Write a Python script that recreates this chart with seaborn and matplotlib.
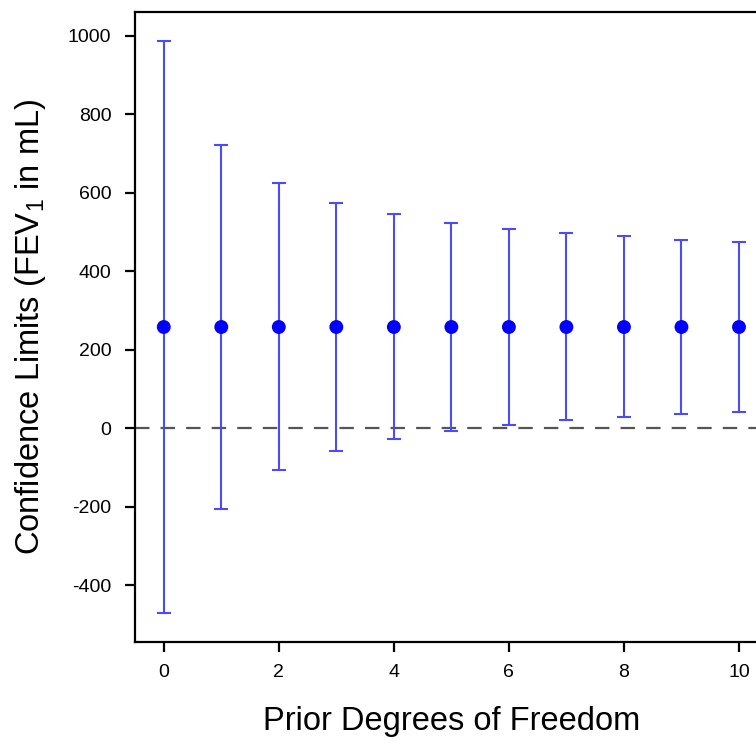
import matplotlib
matplotlib.use("Agg")
import matplotlib.pyplot as plt
import seaborn as sns
import numpy as np
import pandas as pd

prior_df = [0, 1, 2, 3, 4, 5, 6, 7, 8, 9, 10]
center = [258, 258, 258, 258, 258, 258, 258, 258, 258, 258, 258]
upper = [987, 722, 625, 575, 545, 524, 509, 498, 489, 481, 475]
lower = [-470, -205, -107, -58, -28, -6, 9, 20, 29, 36, 41]
x_ticks = [0, 2, 4, 6, 8, 10]
y_ticks = [-400, -200, 0, 200, 400, 600, 800, 1000]

df = pd.DataFrame({"df": prior_df, "center": center, "upper": upper, "lower": lower})

sns.set_theme(style="ticks")
plt.rcParams["font.family"] = ["Liberation Sans", "DejaVu Sans"]
plt.rcParams["mathtext.default"] = "regular"
plt.rcParams["axes.unicode_minus"] = False

fig = plt.figure(figsize=(7.56, 7.45), dpi=100)
ax = fig.add_axes([135 / 756, 1 - 642 / 745, 632.75 / 756, 630 / 745])

ax.axhline(0, color="#555555", lw=1.6, ls=(0, (6.5, 5)), zorder=1)

yerr = np.vstack([df["center"] - df["lower"], df["upper"] - df["center"]])
ax.errorbar(df["df"], df["center"], yerr=yerr, fmt="none", ecolor="#4a4aff",
            elinewidth=1.5, capsize=5, capthick=1.5, zorder=2)
sns.scatterplot(data=df, x="df", y="center", ax=ax, color="#0000ff", s=100,
                edgecolor="none", zorder=3)

ax.set_xlim(-0.5, 10.5)
ax.set_ylim(-545, 1061)
ax.set_xticks(x_ticks)
ax.set_yticks(y_ticks)
ax.tick_params(axis="both", direction="out", length=7, width=1.6, colors="black",
               labelsize=14)
ax.tick_params(axis="x", pad=9)
ax.tick_params(axis="y", pad=10)
for s in ax.spines.values():
    s.set_linewidth(1.6)
    s.set_color("black")

ax.set_xlabel("Prior Degrees of Freedom", fontsize=23.5, labelpad=18, color="black")
ax.set_ylabel("Confidence Limits (FEV$_1$ in mL)", fontsize=23.5, labelpad=14, color="black")

fig.savefig("out.png", dpi=100)
